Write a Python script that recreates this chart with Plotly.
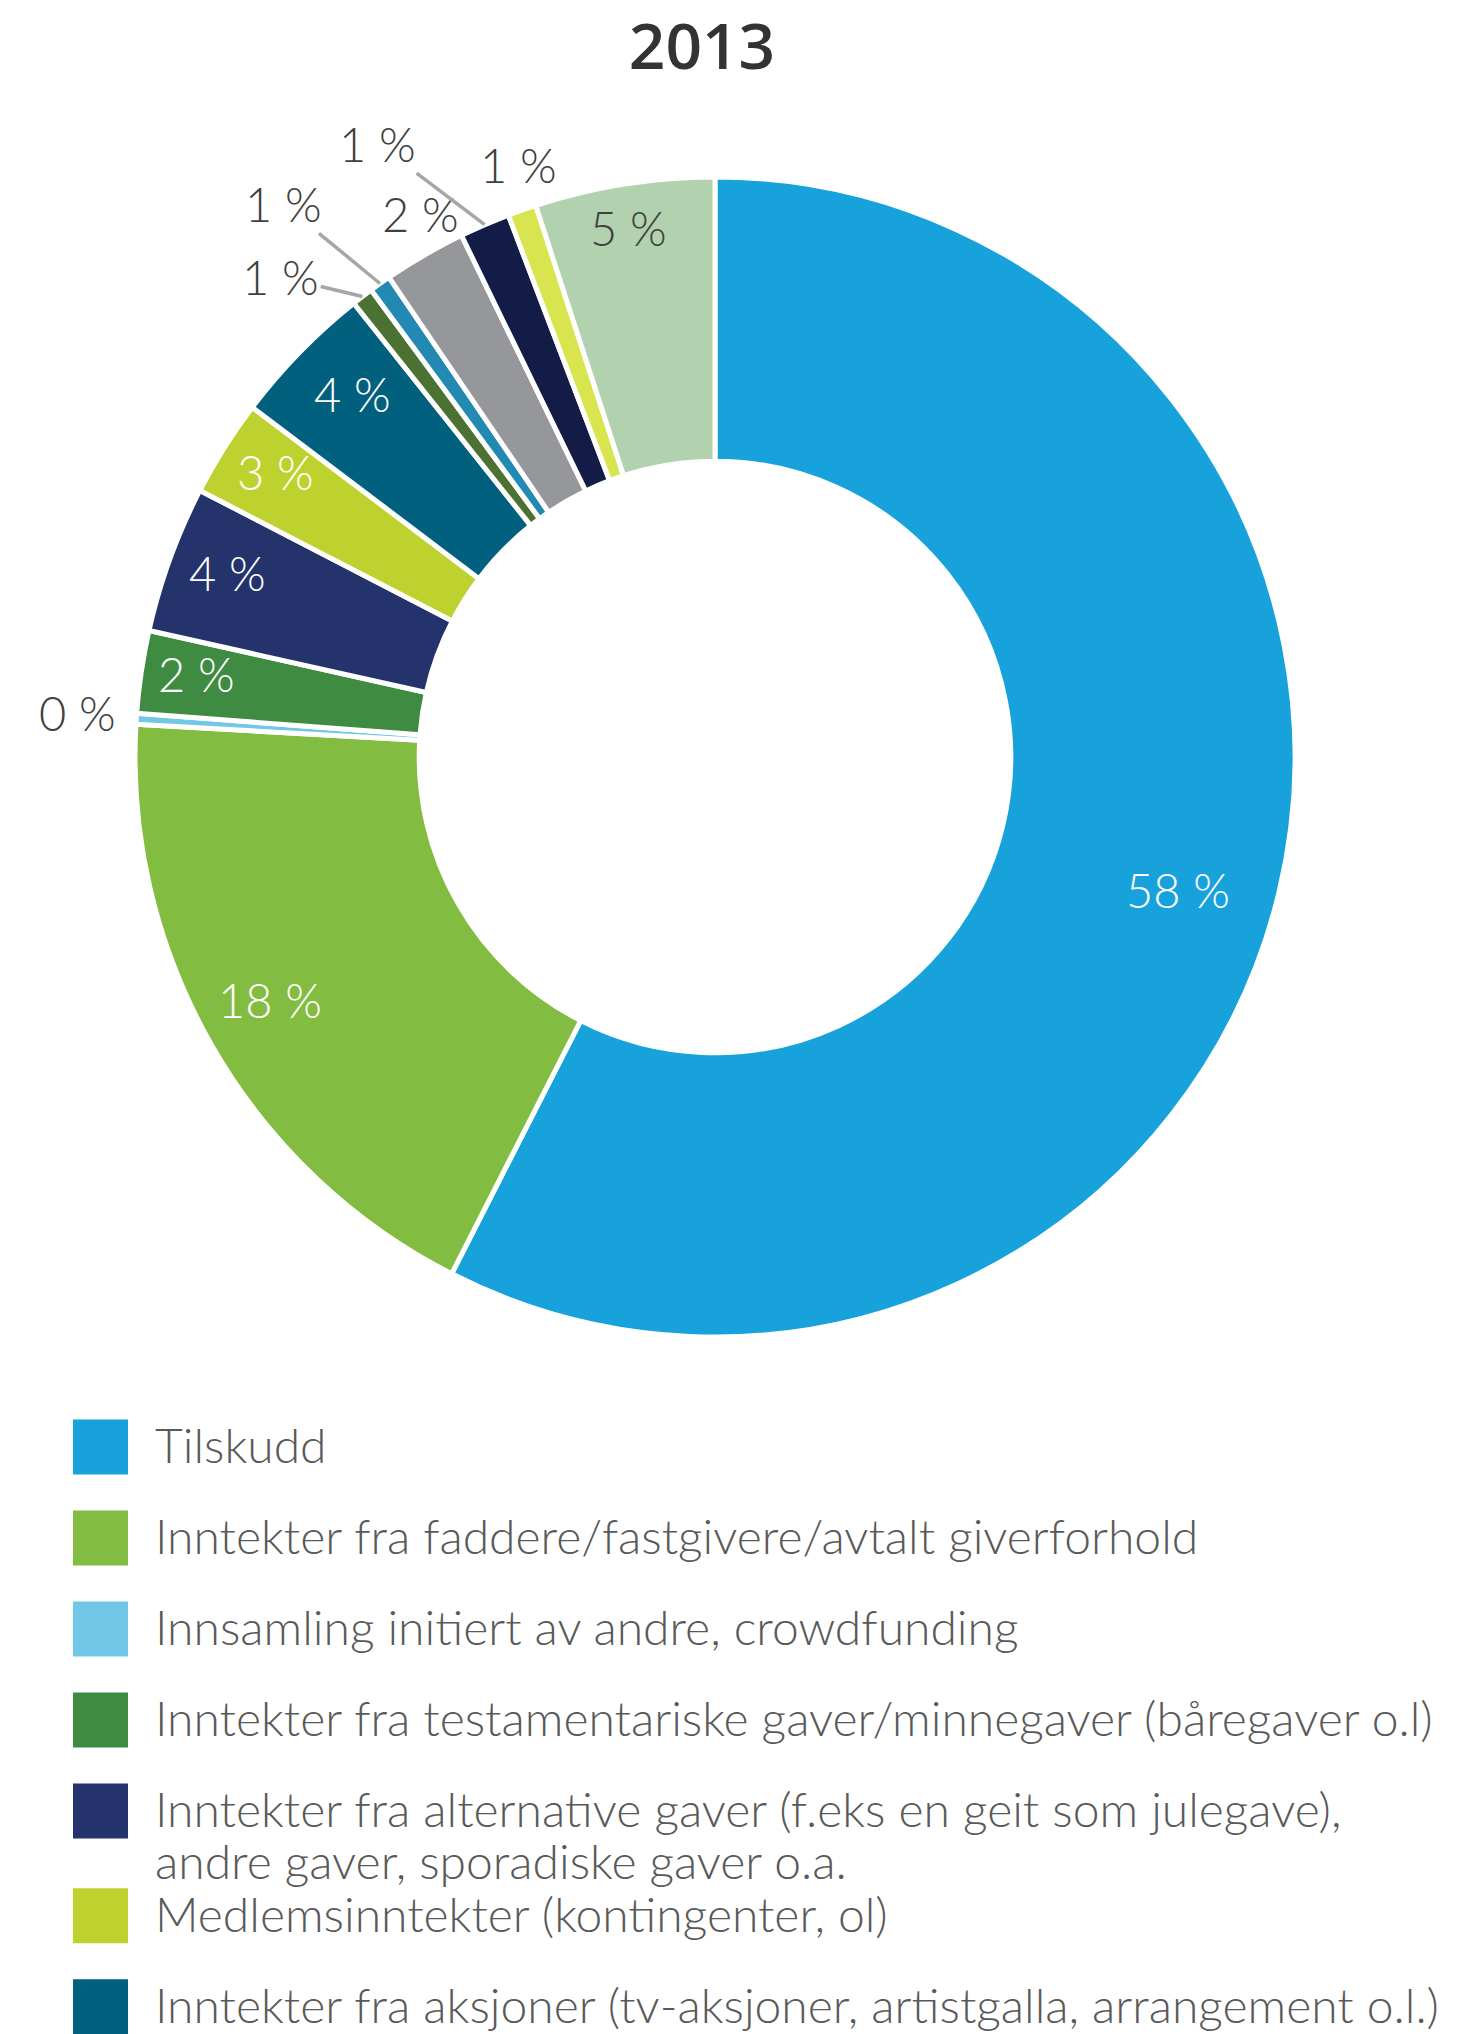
import math
import plotly.graph_objects as go

# ---------------- data ----------------
categories = [
    "Tilskudd",
    "Inntekter fra faddere/fastgivere/avtalt giverforhold",
    "Innsamling initiert av andre, crowdfunding",
    "Inntekter fra testamentariske gaver/minnegaver (båregaver o.l)",
    "Inntekter fra alternative gaver (f.eks en geit som julegave),<br>andre gaver, sporadiske gaver o.a.",
    "Medlemsinntekter (kontingenter, ol)",
    "Inntekter fra aksjoner (tv-aksjoner, artistgalla, arrangement o.l.)",
    "Inntekter fra næringsliv",
    "Inntekter fra stiftelser",
    "Inntekter fra lotteri og spill",
    "Salg av varer og tjenester",
    "Finansinntekter",
    "Andre inntekter",
]
shares = [57.5, 18.4, 0.3, 2.3, 4.1, 2.7, 4.0, 0.6, 0.6, 2.3, 1.4, 0.8, 5.0]
colors = ["#17A2DC", "#82BC41", "#73C7E6", "#3F8B41", "#25336D", "#BED22F", "#02607F",
          "#4C7233", "#2289B2", "#96979B", "#131B47", "#D9E54F", "#B2D1AE"]
title_text = "2013"

# ---------------- label styling / placement (relative to each slice) ----------------
label_dark = [False, False, True, False, False, False, False, True, True, True, True, True, True]
label_rf = [0.831, 0.874, 1.101, 0.905, 0.899, 0.903, 0.884, 1.116, 1.21, 1.065, 1.207, 1.075, 0.924]
label_nudge = [2.5, 1.3, 0.2, 0.6, 0.7, 0.7, 0.8, -4.7, -2.7, 1.6, -5.4, 1.1, -0.3]
label_leader = [False, False, False, False, False, False, False, True, True, False, True, False, False]

W, H = 1470, 2034
CX, CY, R = 715, 757, 580
HOLE = 0.51

FONT = "Lato"
DARK = "#404040"

fig = go.Figure()

fig.add_trace(go.Pie(
    labels=categories,
    values=shares,
    sort=False,
    direction="clockwise",
    rotation=0,
    hole=HOLE,
    marker=dict(colors=colors, line=dict(color="white", width=5)),
    textinfo="none",
    hoverinfo="label+percent",
    showlegend=False,
    domain=dict(x=[(CX - R) / W, (CX + R) / W], y=[1 - (CY + R) / H, 1 - (CY - R) / H]),
))

# slice labels, computed from the cumulative shares
total = sum(shares)
annotations = []
cum = 0.0
for i, v in enumerate(shares):
    a0 = cum / total * 360.0
    cum += v
    a1 = cum / total * 360.0
    mid = (a0 + a1) / 2.0
    ang = math.radians(mid + label_nudge[i])
    px = CX + label_rf[i] * R * math.sin(ang)
    py = CY - label_rf[i] * R * math.cos(ang)
    txt = f"{round(v)} %"
    col = DARK if label_dark[i] else "white"
    font = dict(family=FONT, size=47, color=col, weight=300)
    if label_leader[i]:
        am = math.radians(mid)
        tx = CX + R * math.sin(am)
        ty = CY - R * math.cos(am)
        annotations.append(dict(
            x=tx / W, y=1 - ty / H, xref="paper", yref="paper",
            ax=px - tx, ay=py - ty, text=txt, font=font,
            showarrow=True, arrowhead=0, arrowwidth=3.5, arrowcolor="#A6A6A6",
            standoff=0, startstandoff=0,
        ))
    else:
        annotations.append(dict(
            x=px / W, y=1 - py / H, xref="paper", yref="paper",
            text=txt, font=font, showarrow=False,
            xanchor="center", yanchor="middle",
        ))

# ---------------- legend (square swatches + labels) ----------------
LEG_TOP = 1380
row_y0, row_step, line_px, text_shift = 1447, 91, 52, 4
sw_x, txt_x = 100.5, 155
sw_y, line_x, line_y, line_text = [], [], [], []
extra = 0.0
for i, name in enumerate(categories):
    parts = name.split("<br>")
    y = row_y0 + row_step * (i + extra)
    sw_y.append(y)
    for k, part in enumerate(parts):
        line_x.append(txt_x)
        line_y.append(y + text_shift + k * line_px)
        line_text.append(part)
    extra += 0.15 * (len(parts) - 1)

fig.add_trace(go.Scatter(
    x=[sw_x] * len(categories), y=sw_y, mode="markers",
    marker=dict(symbol="square", size=55, color=colors, line=dict(width=0)),
    showlegend=False, hoverinfo="skip", cliponaxis=True,
))
fig.add_trace(go.Scatter(
    x=line_x, y=line_y, mode="text",
    text=line_text, textposition="middle right",
    textfont=dict(family=FONT, size=48, color="#595959", weight=300),
    showlegend=False, hoverinfo="skip", cliponaxis=True,
))

fig.update_layout(
    width=W, height=H,
    margin=dict(l=0, r=0, t=0, b=0),
    paper_bgcolor="white", plot_bgcolor="rgba(0,0,0,0)",
    title=dict(text=title_text, x=702 / W, y=1 - 47 / H, xanchor="center", yanchor="middle",
               xref="paper", yref="paper",
               font=dict(family="Open Sans", size=64, color="#333333", weight=600)),
    annotations=annotations,
    xaxis=dict(range=[0, W], domain=[0, 1], visible=False, fixedrange=True),
    yaxis=dict(range=[H, LEG_TOP], domain=[0, (H - LEG_TOP) / H], visible=False, fixedrange=True),
    showlegend=False,
)

fig.write_html("out.html", config={"displayModeBar": False},
               post_script="document.body.style.margin='0';")
